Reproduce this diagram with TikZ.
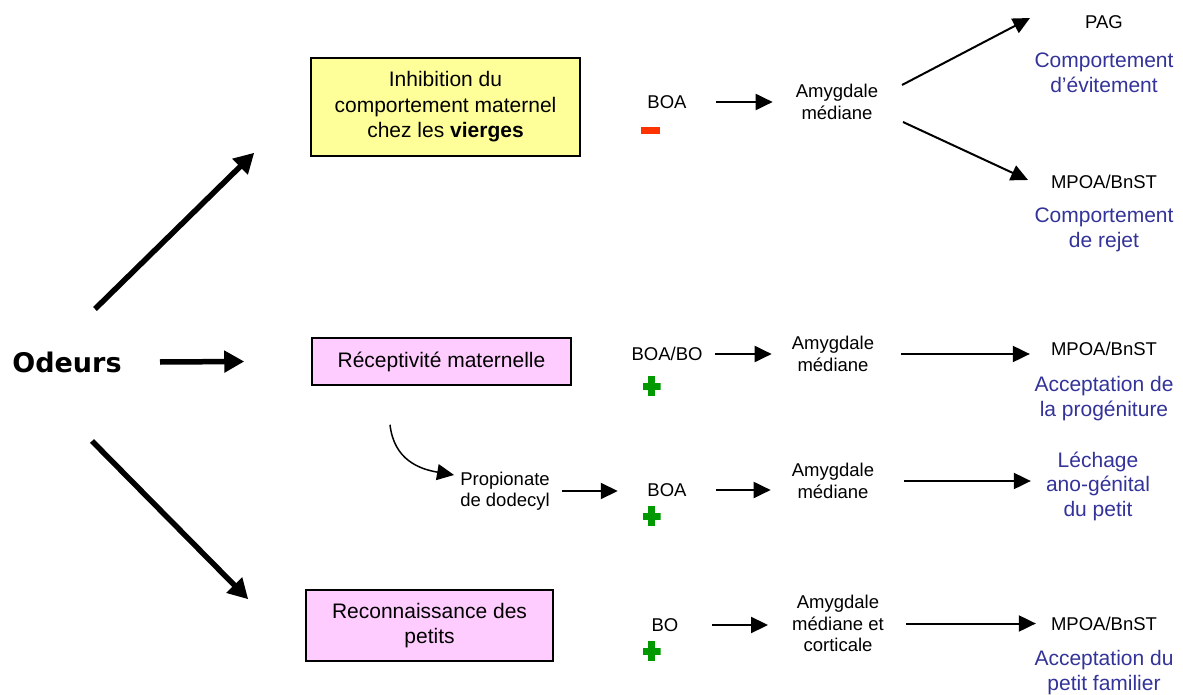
\documentclass[tikz,border=0pt]{standalone}
\usepackage{fontspec}
\setmainfont{Liberation Sans}
\newfontfamily\odfont{DejaVu Sans}
\usepackage{tikz}
\usetikzlibrary{arrows.meta,positioning}

\definecolor{boxyellow}{HTML}{FFFF99}
\definecolor{boxpink}{HTML}{FFCCFF}
\definecolor{txtblue}{HTML}{333399}
\definecolor{minusred}{HTML}{FF3300}
\definecolor{plusgreen}{HTML}{009900}

\begin{document}
\begin{tikzpicture}[x=1pt,y=-1pt,>={Triangle[length=17pt,width=16pt]},
  box/.style={draw,line width=1.5pt,align=center,inner sep=0pt,font=\fontsize{21}{25.5}\selectfont},
  lbl/.style={inner sep=0pt,align=center,font=\fontsize{18.5}{21.5}\selectfont},
  outcome/.style={inner sep=0pt,align=center,text=txtblue,font=\fontsize{21}{24.5}\selectfont},
  minus/.style={fill=minusred,inner sep=0pt,minimum width=19pt,minimum height=7pt},
  plus/.style={inner sep=0pt,minimum width=18pt,minimum height=20pt,
    path picture={
      \fill[plusgreen] ([xshift=-3.5pt]path picture bounding box.north) rectangle ([xshift=3.5pt]path picture bounding box.south);
      \fill[plusgreen] ([yshift=3.5pt]path picture bounding box.west) rectangle ([yshift=-3.5pt]path picture bounding box.east);}},
  thick/.style={->,>={Triangle[length=20pt,width=21pt]},line width=5.5pt},
  arr/.style={->,line width=2pt}]

\useasboundingbox (0,0) rectangle (1183,695);

\node[font=\odfont\bfseries\fontsize{27}{30}\selectfont,inner sep=0pt] (odeurs) at (67,362) {Odeurs};

\node[box,fill=boxyellow,minimum width=269pt,minimum height=98pt] (inhib) at (445.5,107) {Inhibition du\\comportement maternel\\chez les \textbf{vierges}};
\node[box,fill=boxpink,minimum width=259pt,minimum height=47pt] (recep) at (441.5,361.5) {R\'eceptivit\'e maternelle};
\node[box,fill=boxpink,minimum width=247pt,minimum height=71pt] (recon) at (429.5,625.5) {Reconnaissance des\\petits};

\node[lbl] (boa1) at (667,102) {BOA};
\node[minus] (m1) at (650.5,131) {};
\node[lbl] (amg1) at (837,102) {Amygdale\\m\'ediane};
\node[lbl] (pag) at (1104,22) {PAG};
\node[outcome] (evit) at (1104,73) {Comportement\\d'\'evitement};
\node[lbl] (mpoa1) at (1104,182) {MPOA/BnST};
\node[outcome] (rejet) at (1104,230) {Comportement\\de rejet};

\node[lbl] (boa2) at (667,354) {BOA/BO};
\node[plus] (p2) at (651.5,386) {};
\node[lbl] (amg2) at (833,354) {Amygdale\\m\'ediane};
\node[lbl] (mpoa2) at (1104,349) {MPOA/BnST};
\node[outcome] (progen) at (1104,398.5) {Acceptation de\\la prog\'eniture};

\node[lbl] (prop) at (505,491) {Propionate\\de dodecyl};
\node[lbl] (boa3) at (667,490) {BOA};
\node[plus] (p3) at (651.5,516) {};
\node[lbl] (amg3) at (833,481) {Amygdale\\m\'ediane};
\node[outcome] (lech) at (1098,486) {L\'echage\\ano-g\'enital\\du petit};

\node[lbl] (bo4) at (665,625) {BO};
\node[plus] (p4) at (651.5,651) {};
\node[lbl] (amg4) at (838,623.5) {Amygdale\\m\'ediane et\\corticale};
\node[lbl] (mpoa4) at (1104,624) {MPOA/BnST};
\node[outcome] (famil) at (1104,672.5) {Acceptation du\\petit familier};

\path ([shift={(28,-53)}]odeurs.center) edge[thick] ([shift={(-56,-4)}]inhib.south west)
      ([shift={(93,0)}]odeurs.center) edge[thick] ([shift={(-67,0)}]recep.west)
      ([shift={(25,79)}]odeurs.center) edge[thick] ([shift={(-57,10)}]recon.north west);

\path (boa1.east) edge[arr,shorten <=29.5pt,shorten >=23pt] (boa1.east -| amg1.west)
      ([shift={(65,-17)}]amg1.center) edge[arr] ([shift={(-74,-4)}]pag.center)
      ([shift={(66,20)}]amg1.center) edge[arr] ([shift={(-76,-2)}]mpoa1.center);

\path (boa2.east) edge[arr,shorten <=12.5pt,shorten >=20pt] (boa2.east -| amg2.west)
      (amg2.east) edge[arr,shorten <=27pt,shorten >=21pt] (amg2.east -| mpoa2.west);

\draw[arr,line width=1.5pt] ([shift={(-51.5,39)}]recep.south) .. controls +(4,35) and +(-35,-6) .. ([shift={(-6,-16)}]prop.west);

\path (prop.east) edge[arr,shorten <=12pt,shorten >=29.5pt] (prop.east -| boa3.west)
      (boa3.east) edge[arr,shorten <=29.5pt,shorten >=21pt] (boa3.east -| amg3.west)
      (amg3.east) edge[arr,shorten <=30pt,shorten >=15pt] (amg3.east -| lech.west);

\path (bo4.east) edge[arr,shorten <=33.5pt,shorten >=24pt] (bo4.east -| amg4.west)
      (amg4.east) edge[arr,shorten <=22pt,shorten >=15pt] (amg4.east -| mpoa4.west);

\end{tikzpicture}
\end{document}
